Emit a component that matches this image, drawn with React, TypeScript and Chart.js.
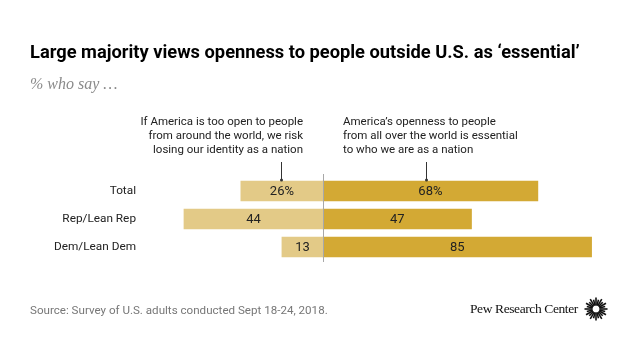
import React, { useEffect, useRef } from "react";
import { Chart, registerables } from "chart.js";

Chart.register(...registerables);

const categories = ["Total", "Rep/Lean Rep", "Dem/Lean Dem"];
const riskValues = [26, 44, 13];
const essentialValues = [68, 47, 85];
const percentRow = 0;

const titleText = "Large majority views openness to people outside U.S. as \u2018essential\u2019";
const subtitleText = "% who say \u2026";
const leftNote = ["If America is too open to people", "from around the world, we risk", "losing our identity as a nation"];
const rightNote = ["America\u2019s openness to people", "from all over the world is essential", "to who we are as a nation"];
const sourceText = "Source: Survey of U.S. adults conducted Sept 18-24, 2018.";
const brandText = "Pew Research Center";

const LIGHT = "#E3CA87";
const GOLD = "#D3A934";
const SANS = "Roboto, 'Liberation Sans', sans-serif";

export default function App() {
  const canvasRef = useRef<HTMLCanvasElement | null>(null);

  useEffect(() => {
    const canvas = canvasRef.current;
    if (!canvas) return;

    const overlay = {
      id: "overlay",
      afterDatasetsDraw(chart: any) {
        const ctx = chart.ctx;
        const xs = chart.scales.x;
        const ys = chart.scales.y;
        const x0 = xs.getPixelForValue(0);
        ctx.save();
        // center line
        ctx.strokeStyle = "#a8a8a8";
        ctx.lineWidth = 1;
        ctx.beginPath();
        ctx.moveTo(Math.round(x0) + 0.5, chart.chartArea.top - 3);
        ctx.lineTo(Math.round(x0) + 0.5, chart.chartArea.bottom + 1);
        ctx.stroke();

        // category labels
        ctx.font = `11.8px ${SANS}`;
        ctx.fillStyle = "#222";
        ctx.textBaseline = "middle";
        ctx.textAlign = "right";
        categories.forEach((c, i) => {
          ctx.fillText(c, 136, ys.getPixelForValue(i));
        });

        // value labels
        ctx.font = `13px ${SANS}`;
        ctx.textAlign = "center";
        ctx.fillStyle = "#222";
        categories.forEach((_, i) => {
          const y = ys.getPixelForValue(i);
          const suf = i === percentRow ? "%" : "";
          const lx = (xs.getPixelForValue(-riskValues[i]) + x0) / 2;
          const rx = (xs.getPixelForValue(essentialValues[i]) + x0) / 2;
          ctx.fillText(riskValues[i] + suf, lx, y + 0.5);
          ctx.fillText(essentialValues[i] + suf, rx, y + 0.5);
        });

        // connectors
        const yTop = ys.getPixelForValue(0) - 10;
        const anchors = [
          xs.getPixelForValue(-riskValues[0] / 2) - 1,
          xs.getPixelForValue(essentialValues[0] / 2) - 4,
        ];
        ctx.strokeStyle = "#333";
        ctx.fillStyle = "#333";
        anchors.forEach((ax) => {
          const px = Math.round(ax) + 0.5;
          ctx.beginPath();
          ctx.moveTo(px, yTop - 19);
          ctx.lineTo(px, yTop - 1);
          ctx.stroke();
          ctx.beginPath();
          ctx.arc(px, yTop - 1, 1.5, 0, Math.PI * 2);
          ctx.fill();
        });
        ctx.restore();
      },
    };

    const chart = new Chart(canvas, {
      type: "bar",
      data: {
        labels: categories,
        datasets: [
          {
            data: riskValues.map((v) => -v),
            backgroundColor: LIGHT,
            borderWidth: 0,
            barThickness: 20,
          },
          {
            data: essentialValues,
            backgroundColor: GOLD,
            borderWidth: 0,
            barThickness: 20,
          },
        ],
      },
      options: {
        indexAxis: "y",
        responsive: false,
        animation: false,
        layout: { padding: { left: 133.4, right: 16.8, top: 177, bottom: 99 } },
        plugins: { legend: { display: false }, tooltip: { enabled: false }, title: { display: false } },
        scales: {
          x: { stacked: true, min: -60, max: 95, display: false },
          y: { stacked: true, display: false },
        },
      },
      plugins: [overlay],
    });
    return () => chart.destroy();
  }, []);

  const noteStyle: React.CSSProperties = {
    position: "absolute",
    top: 115,
    fontFamily: SANS,
    fontSize: 11.5,
    lineHeight: "13.8px",
    color: "#222",
    whiteSpace: "nowrap",
  };

  return (
    <div style={{ position: "absolute", left: 0, top: 0, width: 640, height: 360, background: "#fff", overflow: "hidden" }}>
      <canvas ref={canvasRef} width={640} height={360} style={{ position: "absolute", left: 0, top: 0, width: 640, height: 360 }} />
      <div style={{ position: "absolute", left: 30, top: 40, fontFamily: SANS, fontWeight: 700, fontSize: 18.3, lineHeight: "24px", color: "#000", whiteSpace: "nowrap", letterSpacing: "0px" }}>
        {titleText}
      </div>
      <div style={{ position: "absolute", left: 30, top: 74, fontFamily: "'Liberation Serif', Georgia, serif", fontStyle: "italic", fontSize: 16, lineHeight: "20px", color: "#8a8a8a", whiteSpace: "nowrap" }}>
        {subtitleText}
      </div>
      <div style={{ ...noteStyle, right: 640 - 303, textAlign: "right" }}>
        {leftNote.map((l, i) => (<div key={i}>{l}</div>))}
      </div>
      <div style={{ ...noteStyle, left: 343, textAlign: "left" }}>
        {rightNote.map((l, i) => (<div key={i}>{l}</div>))}
      </div>
      <div style={{ position: "absolute", left: 30, top: 302, fontFamily: SANS, fontSize: 11.6, lineHeight: "16px", color: "#777", whiteSpace: "nowrap" }}>
        {sourceText}
      </div>
      <div style={{ position: "absolute", left: 470, top: 300, fontFamily: "'Liberation Serif', 'Times New Roman', serif", fontSize: 13.5, lineHeight: "18px", color: "#111", whiteSpace: "nowrap", letterSpacing: "-0.4px" }}>
        {brandText}
      </div>
      <svg style={{ position: "absolute", left: 584, top: 297 }} width={24} height={24} viewBox="-12 -12 24 24">
        {Array.from({ length: 24 }).map((_, i) => {
          const a = (i / 24) * Math.PI * 2;
          const r1 = 3.5;
          const r2 = i % 2 === 0 ? 11.5 : 9.5;
          return (
            <line key={i} x1={Math.cos(a) * r1} y1={Math.sin(a) * r1} x2={Math.cos(a) * r2} y2={Math.sin(a) * r2} stroke="#111" strokeWidth={1.6} />
          );
        })}
      </svg>
    </div>
  );
}
